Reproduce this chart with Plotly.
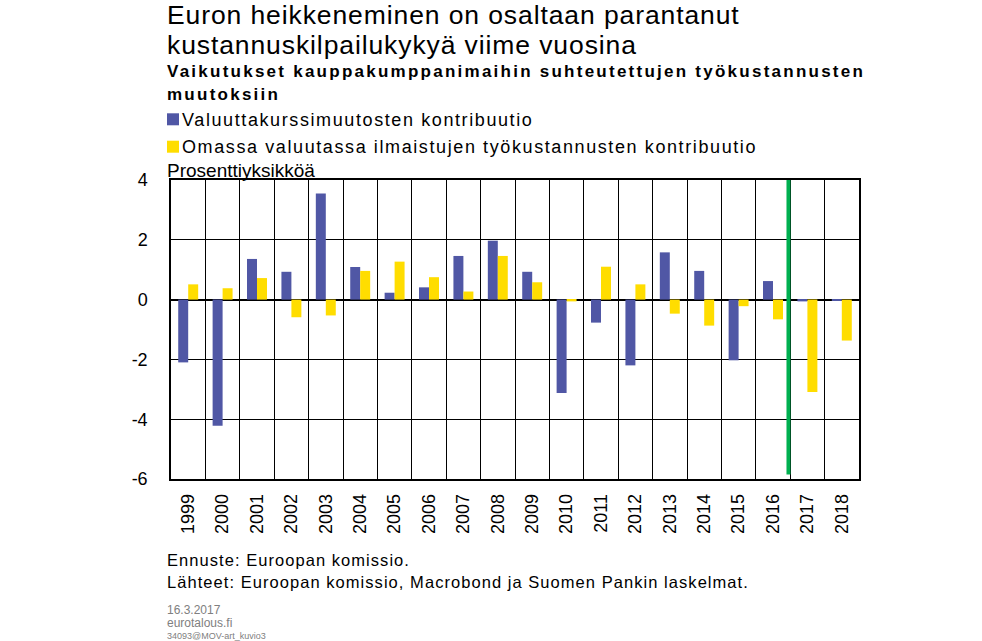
import plotly.graph_objects as go

years = [str(y) for y in range(1999, 2019)]
valuutta = [-2.10, -4.22, 1.36, 0.93, 3.55, 1.09, 0.23, 0.41, 1.46, 1.97,
            0.93, -3.12, -0.77, -2.20, 1.58, 0.96, -2.03, 0.62, -0.06, -0.02]
tyokust = [0.51, 0.38, 0.72, -0.59, -0.53, 0.96, 1.27, 0.75, 0.27, 1.46,
           0.58, -0.06, 1.10, 0.51, -0.47, -0.87, -0.22, -0.66, -3.09, -1.37]
yticks = [4, 2, 0, -2, -4, -6]
first_forecast = "2017"

BLUE = "#5057A5"
YELLOW = "#FFDD00"
FONT = "Arial, Liberation Sans, sans-serif"

W, H = 982, 641
L, R, T, B = 171, 859, 180, 479


def px(x, y):
    return (x - L) / (R - L), (B - y) / (B - T)


fig = go.Figure()
fig.add_trace(go.Bar(x=years, y=valuutta, marker=dict(color=BLUE, line=dict(width=0)),
                     name="Valuuttakurssimuutosten kontribuutio"))
fig.add_trace(go.Bar(x=years, y=tyokust, marker=dict(color=YELLOW, line=dict(width=0)),
                     name="Omassa valuutassa ilmaistujen työkustannusten kontribuutio"))

annots = []


def txt(text, x, y, size, color="black", bold=False, spacing=0.0):
    xp, yp = px(x, y)
    if spacing:
        text = '<span style="letter-spacing:%.2fpx">%s</span>' % (spacing, text)
    if bold:
        text = "<b>" + text + "</b>"
    annots.append(dict(text=text, x=xp, y=yp, xref="paper", yref="paper",
                       xanchor="left", yanchor="middle", showarrow=False,
                       font=dict(family=FONT, size=size, color=color)))


txt("Euron heikkeneminen on osaltaan parantanut", 165, 14.5, 26.5, spacing=0.9)
txt("kustannuskilpailukykyä viime vuosina", 165, 45, 26.5, spacing=0.9)
txt("Vaikutukset kauppakumppanimaihin suhteutettujen työkustannusten", 165, 71, 17, bold=True, spacing=2.25)
txt("muutoksiin", 165, 95, 17, bold=True, spacing=2.25)
txt("Valuuttakurssimuutosten kontribuutio", 180, 119.7, 18, spacing=1.6)
txt("Omassa valuutassa ilmaistujen työkustannusten kontribuutio", 180, 146.5, 18, spacing=1.6)
txt("Prosenttiyksikköä", 165, 170, 19)
txt("Ennuste: Euroopan komissio.", 165, 560, 16.5, spacing=1.05)
txt("Lähteet: Euroopan komissio, Macrobond ja Suomen Pankin laskelmat.", 165, 582, 16.5, spacing=1.05)
txt("16.3.2017", 165, 609.5, 12, color="#808080")
txt("eurotalous.fi", 165, 623, 12, color="#808080")
txt("34093@MOV-art_kuvio3", 165, 635.5, 9, color="#808080")

shapes = []
for color, ytop in [(BLUE, 113.3), (YELLOW, 140.7)]:
    x0, y0 = px(167, ytop + 12)
    x1, y1 = px(179, ytop)
    shapes.append(dict(type="rect", xref="paper", yref="paper", x0=x0, x1=x1, y0=y0, y1=y1,
                       fillcolor=color, line=dict(width=0)))

gi = years.index(first_forecast) - 0.55
shapes.append(dict(type="line", xref="x", yref="y", x0=gi, x1=gi, y0=-5.85, y1=4.15,
                   line=dict(color="#00B050", width=4), layer="above"))

fig.update_layout(
    width=W, height=H,
    margin=dict(l=L, r=W - R, t=T, b=H - B),
    paper_bgcolor="white", plot_bgcolor="white",
    barmode="group", bargap=0.42, bargroupgap=0,
    showlegend=False,
    annotations=annots, shapes=shapes,
    font=dict(family=FONT, color="black"),
)
fig.update_xaxes(
    type="category", tickson="boundaries", showgrid=True, gridcolor="black", gridwidth=1,
    tickangle=-90, tickfont=dict(size=18, family=FONT), ticks="",
    showline=True, mirror=True, linecolor="black", linewidth=1.5,
    ticklabelstandoff=6,
)
fig.update_yaxes(
    range=[-6, 4], tickvals=yticks, ticktext=[str(v) for v in yticks],
    showgrid=True, gridcolor="black", gridwidth=1,
    zeroline=True, zerolinecolor="black", zerolinewidth=1.5,
    tickfont=dict(size=18, family=FONT), ticks="",
    showline=True, mirror=True, linecolor="black", linewidth=1.5,
    ticklabelstandoff=18,
)

fig.write_html("out.html", config={"displayModeBar": False},
               post_script="document.body.style.margin='0';")
